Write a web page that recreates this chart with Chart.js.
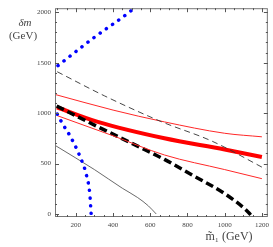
<!DOCTYPE html>
<html lang="en">
<head>
    <meta charset="UTF-8">
    <script src="https://cdn.jsdelivr.net/npm/chart.js@4.4.0/dist/chart.umd.min.js"></script>
    <title>delta m vs m1</title>
    <style>
        body { margin: 0; background: #fff; }
        #wrap { width: 273px; height: 247px; }
    </style>
</head>
<body>
    <div id="wrap"><canvas id="myChart"></canvas></div>
    <script>

        // tick labels
        var xTicks = [200, 400, 600, 800, 1000, 1200];
        var yTicks = [0, 500, 1000, 1500, 2000];

        // blue dotted, upper branch
        var blueUpX = [104, 291, 500, 530];
        var blueUpY = [1470, 1740, 2020, 2070];
        // blue dotted, lower branch
        var blueLoX = [100, 130, 170, 220, 257, 275, 282, 284];
        var blueLoY = [990, 890, 770, 580, 385, 200, 10, -40];

        // thin dashed black
        var thinDashX = [100, 355, 660, 933, 1220];
        var thinDashY = [1410, 1170, 915, 721, 445];

        // thin solid black
        var thinX = [93, 300, 450, 532, 590, 632];
        var thinY = [675, 440, 255, 163, 80, 0];

        // thick dashed black
        var thickDashX = [97, 318, 532, 676, 826, 1008, 1131, 1140];
        var thickDashY = [1070, 865, 673, 541, 385, 192, 10, -10];

        // thick red and its thin red band
        var redX = [98, 318, 676, 1000, 1200];
        var redY = [1058, 913, 750, 640, 565];
        var redUpX = [88, 400, 676, 1000, 1200];
        var redUpY = [1185, 1030, 913, 800, 765];
        var redLoX = [100, 393, 676, 1000, 1200];
        var redLoY = [975, 780, 585, 440, 350];

        function pts(xs, ys) {
            return xs.map(function(x, i) { return {x: x, y: ys[i]}; });
        }

        var serif = 'Liberation Serif';

        // mathematica style ticks inside the frame + axis labels
        var frameTicks = {
            id: 'frameTicks',
            afterDraw: function(chart) {
                var c = chart.ctx, a = chart.chartArea;
                var xs = chart.scales.x, ys = chart.scales.y;
                c.save();
                c.strokeStyle = '#777';
                c.lineWidth = 1;
                c.strokeRect(a.left + 0.5, a.top + 0.5, a.right - a.left - 1, a.bottom - a.top - 1);
                c.strokeStyle = '#555';
                c.beginPath();
                for (var v = 100; v <= 1200; v += 50) {
                    var px = Math.round(xs.getPixelForValue(v)) + 0.5;
                    var len = (v % 200 === 0) ? 4 : 2;
                    c.moveTo(px, a.bottom); c.lineTo(px, a.bottom - len);
                    c.moveTo(px, a.top); c.lineTo(px, a.top + len);
                }
                for (var w = 0; w <= 2000; w += 100) {
                    var py = Math.round(ys.getPixelForValue(w)) + 0.5;
                    var l2 = (w % 500 === 0) ? 4 : 2;
                    c.moveTo(a.left, py); c.lineTo(a.left + l2, py);
                    c.moveTo(a.right, py); c.lineTo(a.right - l2, py);
                }
                c.stroke();
                c.fillStyle = '#444';
                c.textAlign = 'center';
                c.textBaseline = 'middle';
                c.font = 'italic 11px ' + serif;
                c.fillText('\u03B4m', 25, 23);
                c.font = '11px ' + serif;
                c.fillText('(GeV)', 23, 36);
                c.font = '12px ' + serif;
                c.fillText('m\u0303\u2081 (GeV)', 229, 237);
                c.restore();
            }
        };

        var ctx = document.getElementById('myChart').getContext('2d');
        var chart = new Chart(ctx, {
            type: 'line',
            data: {
                datasets: [
                    {
                        data: pts(blueUpX, blueUpY),
                        borderColor: 'rgb(0, 0, 255)',
                        borderWidth: 3.5,
                        borderDash: [0.1, 7.5],
                        borderCapStyle: 'round',
                        pointRadius: 0,
                        cubicInterpolationMode: 'monotone'
                    },
                    {
                        data: pts(blueLoX, blueLoY),
                        borderColor: 'rgb(0, 0, 255)',
                        borderWidth: 3.5,
                        borderDash: [0.1, 7.5],
                        borderCapStyle: 'round',
                        pointRadius: 0,
                        cubicInterpolationMode: 'monotone'
                    },
                    {
                        data: pts(thinDashX, thinDashY),
                        borderColor: '#333',
                        borderWidth: 0.9,
                        borderDash: [6, 4],
                        pointRadius: 0,
                        cubicInterpolationMode: 'monotone'
                    },
                    {
                        data: pts(thinX, thinY),
                        borderColor: '#444',
                        borderWidth: 0.8,
                        pointRadius: 0,
                        cubicInterpolationMode: 'monotone'
                    },
                    {
                        data: pts(redUpX, redUpY),
                        borderColor: 'rgb(255, 40, 40)',
                        borderWidth: 1,
                        pointRadius: 0,
                        cubicInterpolationMode: 'monotone'
                    },
                    {
                        data: pts(redLoX, redLoY),
                        borderColor: 'rgb(255, 40, 40)',
                        borderWidth: 1,
                        pointRadius: 0,
                        cubicInterpolationMode: 'monotone'
                    },
                    {
                        data: pts(thickDashX, thickDashY),
                        borderColor: '#000',
                        borderWidth: 3.5,
                        borderDash: [8, 4],
                        pointRadius: 0,
                        cubicInterpolationMode: 'monotone'
                    },
                    {
                        data: pts(redX, redY),
                        borderColor: 'rgb(255, 0, 0)',
                        borderWidth: 4,
                        pointRadius: 0,
                        cubicInterpolationMode: 'monotone'
                    }
                ]
            },
            options: {
                responsive: true,
                maintainAspectRatio: false,
                animation: false,
                layout: { padding: { top: 1, right: 4, left: 0, bottom: 0 } },
                plugins: {
                    legend: { display: false },
                    tooltip: { enabled: false }
                },
                scales: {
                    x: {
                        type: 'linear',
                        min: 88,
                        max: 1232,
                        afterBuildTicks: function(s) {
                            s.ticks = xTicks.map(function(v) { return {value: v}; });
                        },
                        afterFit: function(s) { s.height = 30; },
                        grid: { display: false, drawTicks: false },
                        border: { display: false },
                        ticks: {
                            padding: 4,
                            maxRotation: 0,
                            color: '#444',
                            font: { family: serif, size: 7 },
                            callback: function(v) { return String(v); }
                        }
                    },
                    y: {
                        min: -30,
                        max: 2040,
                        afterBuildTicks: function(s) {
                            s.ticks = yTicks.map(function(v) { return {value: v}; });
                        },
                        afterFit: function(s) { s.width = 55; },
                        grid: { display: false, drawTicks: false },
                        border: { display: false },
                        ticks: {
                            padding: 4,
                            color: '#444',
                            font: { family: serif, size: 7 },
                            callback: function(v) { return String(v); }
                        }
                    }
                }
            },
            plugins: [frameTicks]
        });
    </script>
</body>
</html>
